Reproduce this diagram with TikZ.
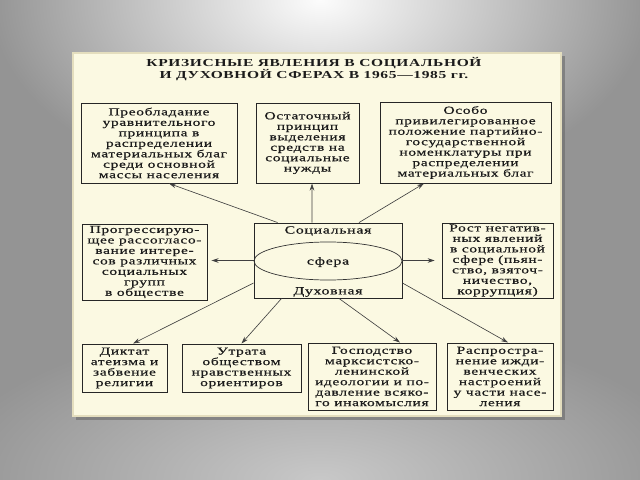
\documentclass[tikz,border=0pt]{standalone}
\usepackage{fontspec}
\setmainfont{Liberation Serif}[FakeStretch=1.45,LetterSpace=6]
\newfontfamily\boxfont{Liberation Serif}[FakeStretch=1.45,LetterSpace=6,FakeBold=0.6]
\usetikzlibrary{arrows.meta,shapes.geometric,calc}
\definecolor{bgbase}{RGB}{148,148,148}
\definecolor{bgtop}{RGB}{252,252,252}
\definecolor{bgbot}{RGB}{200,200,200}
\definecolor{panel}{RGB}{251,249,226}
\definecolor{panelrim}{RGB}{228,222,190}
\definecolor{shadowc}{RGB}{105,105,105}
\definecolor{txt}{RGB}{28,28,28}
\tikzset{
  box/.style={draw=black!85, line width=0.65pt, align=center, inner sep=0pt,
    text=txt, font=\boxfont\fontsize{7.6}{7.45}\selectfont},
  lbl/.style={inner sep=0pt, text=txt, font=\boxfont\fontsize{7.8}{8}\selectfont},
  arr/.style={-{Stealth[length=5pt,width=3.2pt]}, line width=0.45pt, draw=black!75}
}
\begin{document}
\begin{tikzpicture}[x=0.025cm, y=-0.025cm]
\useasboundingbox (0,0) rectangle (640,480);
% background
\fill[bgbase] (0,0) rectangle (640,480);
\begin{scope}
\clip (0,0) rectangle (640,480);
\shade[inner color=bgtop, outer color=bgbase] (320,0) ellipse [x radius=330, y radius=200];
\shade[inner color=bgbot, outer color=bgbase] (320,480) ellipse [x radius=380, y radius=160];
\end{scope}
% panel
\fill[shadowc, opacity=0.6] (76,56) rectangle (565,420);
\fill[panel, draw=panelrim, line width=1pt] (73,53) rectangle (561,416);
% title
\node[inner sep=0pt, text=txt, align=center, font=\fontsize{7.6}{8.6}\selectfont\bfseries] (title) at (314,69)
  {КРИЗИСНЫЕ ЯВЛЕНИЯ В СОЦИАЛЬНОЙ\\И ДУХОВНОЙ СФЕРАХ В 1965—1985 гг.};
% boxes
\node[box, minimum width=3.9cm, minimum height=2cm] (tl) at (159,143)
  {Преобладание\\уравнительного\\принципа в\\распределении\\материальных благ\\среди основной\\массы населения};
\node[box, minimum width=2.575cm, minimum height=2cm] (tm) at (307.5,143)
  {Остаточный\\принцип\\выделения\\средств на\\социальные\\нужды};
\node[box, minimum width=4.275cm, minimum height=2.025cm] (tr) at (465.5,142.5)
  {Особо\\привилегированное\\положение партийно-\\государственной\\номенклатуры при\\распределении\\материальных благ};
\node[box, minimum width=3.125cm, minimum height=1.9cm] (ml) at (144.5,262)
  {Прогрессирую-\\щее рассогласо-\\вание интере-\\сов различных\\социальных\\групп\\в обществе};
\node[box, minimum width=2.775cm, minimum height=1.875cm] (mr) at (497.5,260.5)
  {Рост негатив-\\ных явлений\\в социальной\\сфере (пьян-\\ство, взяточ-\\ничество,\\коррупция)};
\node[box, minimum width=2.125cm, minimum height=1.2cm] (b1) at (124.5,368)
  {Диктат\\атеизма и\\забвение\\религии};
\node[box, minimum width=2.975cm, minimum height=1.2cm] (b2) at (241.5,368)
  {Утрата\\обществом\\нравственных\\ориентиров};
\node[box, minimum width=3.2cm, minimum height=1.675cm] (b3) at (372,376.5)
  {Господство\\марксистско-\\ленинской\\идеологии и по-\\давление всяко-\\го инакомыслия};
\node[box, minimum width=2.65cm, minimum height=1.675cm] (b4) at (500,376.5)
  {Распростра-\\нение ижди-\\венческих\\настроений\\у части насе-\\ления};
% centre
\node[box, minimum width=3.7cm, minimum height=1.875cm] (soc) at (328,260.5) {};
\node[draw=black!80, line width=0.5pt, ellipse, minimum width=3.7cm, minimum height=0.95cm, inner sep=0pt] (ell) at (328,261) {};
\node[lbl] (s1) at (328,231) {Социальная};
\node[lbl] (s2) at (328,262) {сфера};
\node[lbl] (s3) at (328,292) {Духовная};
% connectors
\draw[arr] ([xshift=0.6cm]soc.north west) -- ([xshift=0.25cm]tl.south);
\draw[arr] ([xshift=-0.4cm]soc.north) -- ([xshift=0.1125cm]tm.south);
\draw[arr] ([xshift=0.775cm]soc.north) -- ([xshift=-1.0375cm]tr.south);
\draw[arr, shorten >=0.1cm] (soc.west) -- (soc.west -| ml.east);
\draw[arr, shorten >=0.17cm] (soc.east) -- (soc.east -| mr.west);
\draw[arr] ([yshift=-0.5625cm]soc.west) -- ([xshift=0.2125cm]b1.north);
\draw[arr] ([xshift=0.7cm]soc.south west) -- (b2.north);
\draw[arr] ([xshift=0.275cm]soc.south) -- ([xshift=0.7cm]b3.north);
\draw[arr] ([yshift=-0.5625cm]soc.east) -- ([xshift=0.2cm]b4.north);
\end{tikzpicture}
\end{document}
